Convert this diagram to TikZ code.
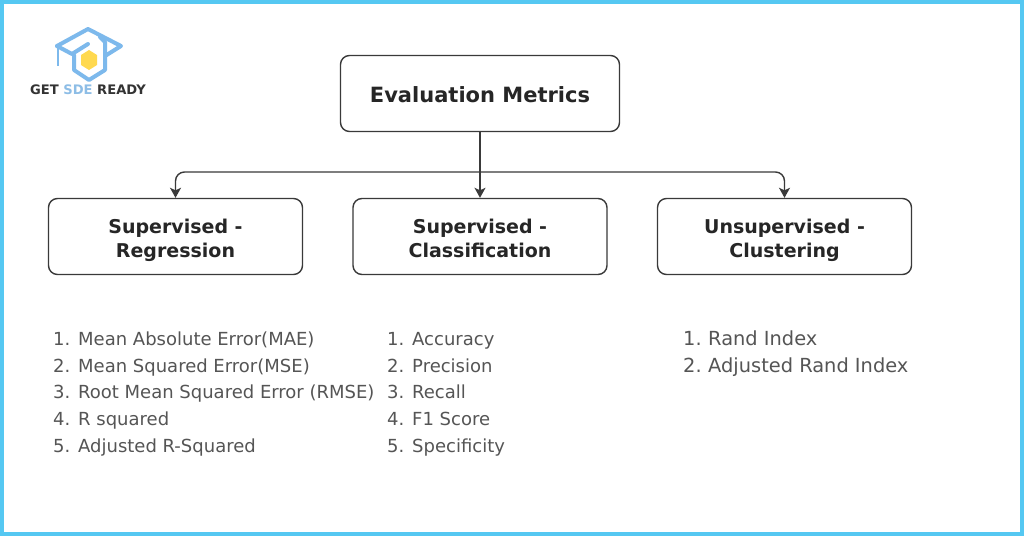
\documentclass[tikz,border=0pt]{standalone}
\usepackage{fontspec}
\setmainfont{DejaVu Sans}
\usetikzlibrary{arrows.meta}
\definecolor{frameblue}{HTML}{55C8F2}
\definecolor{logoblue}{HTML}{7DB9EC}
\definecolor{logoyellow}{HTML}{FFD94F}
\definecolor{logotext}{HTML}{333333}
\definecolor{sdeblue}{HTML}{8DBDE6}
\definecolor{edge}{HTML}{3A3A3A}
\definecolor{listgray}{HTML}{555555}
\tikzset{
  x=1pt,y=-1pt,
  topbox/.style={draw=edge,line width=1.4pt,rounded corners=9pt,minimum width=279pt,minimum height=76pt,inner sep=0pt,font=\fontsize{21}{25}\selectfont\bfseries,text=black!85},
  catbox/.style={draw=edge,line width=1.4pt,rounded corners=9pt,minimum width=254pt,minimum height=76pt,inner sep=0pt,align=center,font=\fontsize{19}{24}\selectfont\bfseries,text=black!85},
  conn/.style={draw=edge,line width=1.4pt,-{Stealth[length=10pt,width=11pt,inset=2.5pt]}},
  item/.style={anchor=base west,inner sep=0pt,text=listgray,font=\fontsize{18}{20}\selectfont},
  itemwide/.style={item,font=\fontsize{19.4}{20}\selectfont},
  logoline/.style={draw=logoblue,line width=4pt,line join=round,line cap=round}
}
\newcommand{\numbered}[2]{\makebox[25pt][l]{#1.}#2}
\newcommand{\catlabel}[2]{\rule{0pt}{24.8pt}#1\\#2\strut}
\begin{document}
\begin{tikzpicture}
\useasboundingbox (0,0) rectangle (1024,536);
\fill[white] (0,0) rectangle (1024,536);
\draw[frameblue,line width=4pt] (2,2) rectangle (1022,534);
% logo
\draw[logoline] (57,46) -- (88,29) -- (121,46) -- (105,56);
\draw[logoline] (57,46) -- (72,54) -- (88,44);
\draw[logoline] (100,37) -- (105,42) -- (105,70) -- (89,80) -- (74,70) -- (74,55);
\draw[draw=logoblue,line width=2.5pt] (58,47) -- (58,66);
\fill[logoyellow] (89,50) -- (97,55) -- (97,65) -- (89,70) -- (81,65) -- (81,55) -- cycle;
\node[anchor=base west,inner sep=0pt,font=\fontsize{13.1}{15}\selectfont\bfseries,text=logotext] (logo) at (30,94) {GET \textcolor{sdeblue}{SDE} READY};
% boxes
\node[topbox] (eval) at (480,93.5) {\rule{0pt}{19pt}Evaluation Metrics};
\node[catbox] (reg) at (175.5,236.5) {\catlabel{Supervised -}{Regression}};
\node[catbox] (cls) at (480,236.5) {\catlabel{Supervised -}{Classification}};
\node[catbox] (clu) at (784.5,236.5) {\catlabel{Unsupervised -}{Clustering}};
\coordinate (junction) at (480,172);
\draw[conn] (eval.south) -- (cls.north);
\draw[conn,rounded corners=9pt] (junction) -| (reg.north);
\draw[conn,rounded corners=9pt] (junction) -| (clu.north);
% lists
\node[item] (r1) at (53,345.5) {\numbered{1}{Mean Absolute Error(MAE)}};
\node[item] (r2) at (53,372) {\numbered{2}{Mean Squared Error(MSE)}};
\node[item] (r3) at (53,398.5) {\numbered{3}{Root Mean Squared Error (RMSE)}};
\node[item] (r4) at (53,425) {\numbered{4}{R squared}};
\node[item] (r5) at (53,452) {\numbered{5}{Adjusted R-Squared}};
\node[item] (c1) at (387,345.5) {\numbered{1}{Accuracy}};
\node[item] (c2) at (387,372) {\numbered{2}{Precision}};
\node[item] (c3) at (387,398.5) {\numbered{3}{Recall}};
\node[item] (c4) at (387,425) {\numbered{4}{F1 Score}};
\node[item] (c5) at (387,452) {\numbered{5}{Specificity}};
\node[itemwide] (u1) at (683,345.5) {\numbered{1}{Rand Index}};
\node[itemwide] (u2) at (683,372) {\numbered{2}{Adjusted Rand Index}};
\end{tikzpicture}
\end{document}
